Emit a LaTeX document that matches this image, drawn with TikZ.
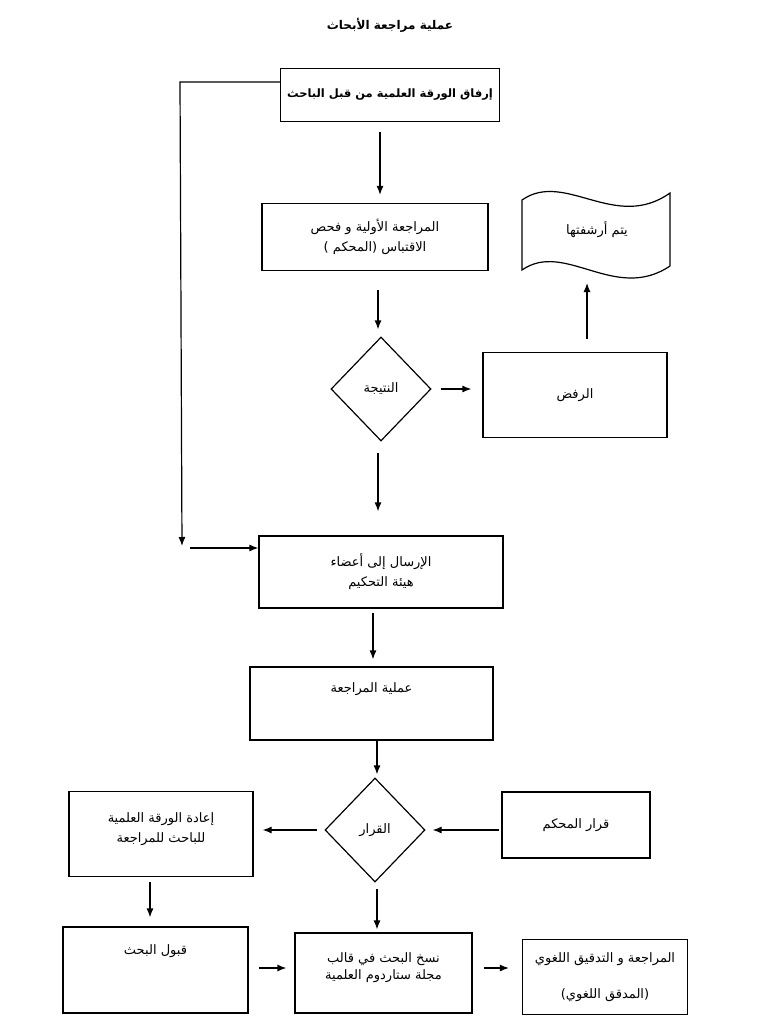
\documentclass[tikz,border=0pt]{standalone}
\usepackage{fontspec}
\newfontfamily\arabicfont[Script=Arabic]{DejaVu Sans}
\TeXXeTstate=1
\usetikzlibrary{arrows.meta,shapes.geometric}
\newcommand\artxt[1]{\beginR #1\endR}

\tikzset{
  box/.style={draw, line width=1.2pt, align=center, inner sep=2pt,
    font=\arabicfont\fontsize{13}{20}\selectfont},
  decision/.style={draw, diamond, line width=1.2pt, inner sep=0pt,
    minimum width=100pt, minimum height=104pt,
    font=\arabicfont\fontsize{13}{20}\selectfont},
  txt/.style={font=\arabicfont\fontsize{13}{20}\selectfont, align=center},
  arr/.style={-{Latex[length=9pt,width=7pt]}, line width=1.2pt},
}

\begin{document}
\begin{tikzpicture}[x=1pt, y=-1pt]
      \useasboundingbox (0,0) rectangle (768,1024);

      \node[txt, font=\arabicfont\bfseries\fontsize{12}{15}\selectfont] (title) at (390,25) {\artxt{عملية مراجعة الأبحاث}};

      % upper part
      \node[box, minimum width=219pt, minimum height=53pt, font=\arabicfont\bfseries\fontsize{11.5}{15}\selectfont] (submit) at (390,95) {\artxt{إرفاق الورقة العلمية من قبل الباحث}};
      \node[box, minimum width=226pt, minimum height=67pt] (initial) at (375,237) {\artxt{المراجعة الأولية و فحص}\\\artxt{الاقتباس (المحكم )}};
      \node[decision] (result) at (381,389) {\artxt{النتيجة}};
      \node[box, minimum width=184pt, minimum height=85pt] (reject) at (575,395) {\artxt{الرفض}};

      % archive tape
      \draw[line width=1.2pt] (522,200) .. controls (565,170) and (615,232) .. (670,193)
        -- (670,266) .. controls (615,303) and (565,240) .. (522,270) -- cycle;
      \node[txt] (archive) at (597,230) {\artxt{يتم أرشفتها}};
      \coordinate (tapeend) at (587,283);

      % middle part
      \node[box, minimum width=244pt, minimum height=72pt] (send) at (381,572) {\artxt{الإرسال إلى أعضاء}\\\artxt{هيئة التحكيم}};
      \node[box, minimum width=243pt, minimum height=73pt] (review) at (371.5,703.5) {};
      \node[txt, anchor=north] (reviewtxt) at ([yshift=-13pt]review.north) {\artxt{عملية المراجعة}};

      % lower part
      \node[decision] (decide) at (375,830) {\artxt{القرار}};
      \node[box, minimum width=148pt, minimum height=66pt] (judge) at (576,825) {\artxt{قرار المحكم}};
      \node[box, minimum width=184pt, minimum height=85pt, text depth=12pt] (back) at (161,834) {\artxt{إعادة الورقة العلمية}\\\artxt{للباحث للمراجعة}};
      \node[box, minimum width=185pt, minimum height=86pt] (accept) at (155.5,970) {};
      \node[txt, anchor=north] (accepttxt) at ([yshift=-15pt]accept.north) {\artxt{قبول البحث}};
      \node[box, minimum width=177pt, minimum height=80pt, text depth=14pt] (format) at (383.5,973) {\artxt{نسخ البحث في قالب}\\[-3pt]\artxt{مجلة ستاردوم العلمية}};
      \node[box, minimum width=165pt, minimum height=75pt] (proof) at (605,977) {\artxt{المراجعة و التدقيق اللغوي}\\[16pt]\artxt{(المدقق اللغوي)}};

      % connectors
      \draw[arr, shorten <=10pt, shorten >=8pt] ([xshift=-10pt]submit.south) -- ([xshift=-10pt]submit.south |- initial.north);
      \draw[arr, shorten <=19pt, shorten >=7pt] ([xshift=3pt]initial.south) -- ([xshift=3pt]initial.south |- result.north);
      \draw[arr, shorten <=9pt, shorten >=11pt] (result.east) -- (result.east -| reject.west);
      \draw[arr, shorten <=13pt] ([xshift=12pt]reject.north) -- (tapeend);
      \draw[arr, shorten <=11pt, shorten >=24pt] ([xshift=-3pt]result.south) -- ([xshift=-3pt]result.south |- send.north);

      \coordinate (looptop) at (180,82);
      \coordinate (loopbot) at (182,548);
      \draw[arr, shorten >=2pt] (submit.west |- looptop) -- (looptop) -- (loopbot);
      \draw[arr, shorten <=8pt] (loopbot) -- (send.west |- loopbot);

      \draw[arr, shorten <=4pt, shorten >=7pt] ([xshift=-8pt]send.south) -- ([xshift=-8pt]send.south |- review.north);
      \draw[arr, shorten >=3pt] ([xshift=5.5pt]review.south) -- ([xshift=5.5pt]review.south |- decide.north);
      \draw[arr, shorten <=2pt, shorten >=7pt] (judge.west |- decide.east) -- (decide.east);
      \draw[arr, shorten <=7pt, shorten >=9pt] (decide.west) -- (decide.west -| back.east);
      \draw[arr, shorten <=5pt, shorten >=9pt] ([xshift=-11pt]back.south) -- ([xshift=-11pt]back.south |- accept.north);
      \draw[arr, shorten <=6pt, shorten >=3pt] ([xshift=2pt]decide.south) -- ([xshift=2pt]decide.south |- format.north);
      \draw[arr, shorten <=10pt, shorten >=8pt] ([yshift=2pt]accept.east) -- ([yshift=2pt]accept.east -| format.west);
      \draw[arr, shorten <=11pt, shorten >=13pt] ([yshift=5pt]format.east) -- ([yshift=5pt]format.east -| proof.west);
\end{tikzpicture}
\end{document}
